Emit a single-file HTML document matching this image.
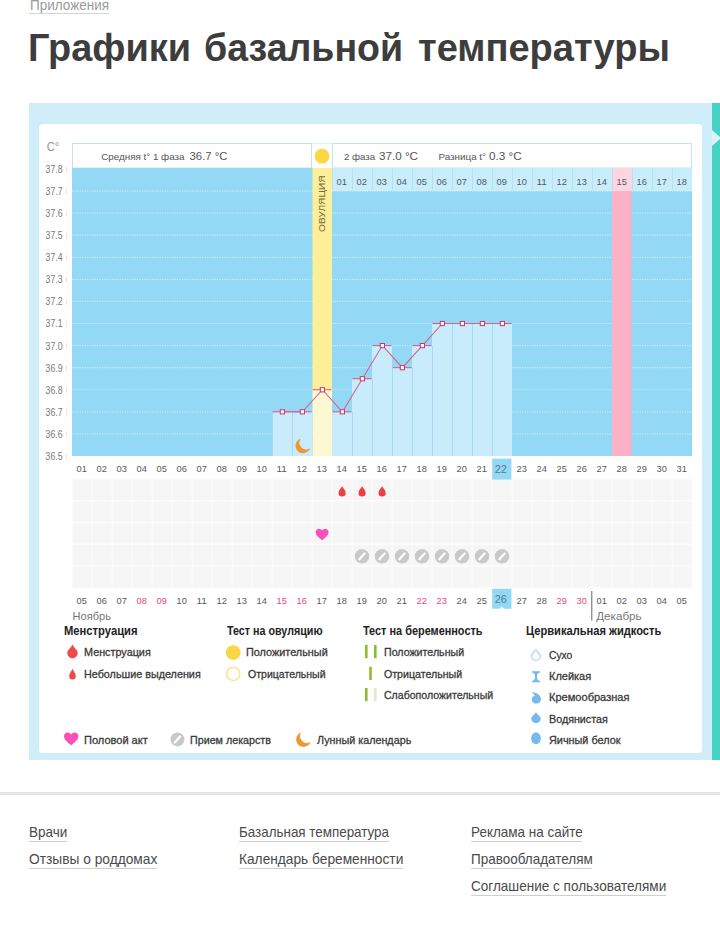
<!DOCTYPE html>
<html lang="ru"><head><meta charset="utf-8"><title>Графики базальной температуры</title>
<style>
html,body{margin:0;padding:0;background:#fff;}
body{width:720px;height:928px;position:relative;overflow:hidden;font-family:"Liberation Sans",sans-serif;}
.t{position:absolute;white-space:nowrap;line-height:1;transform-origin:0 50%;display:block;}
.lg{-webkit-text-stroke:0.3px #383838;}
.ul{position:absolute;height:1px;display:block;}
#panel{position:absolute;left:29px;top:103px;width:683px;height:657px;background:#d0eefa;}
#teal{position:absolute;left:712px;top:103px;width:8px;height:657px;background:#44d4c1;}
#notch{position:absolute;left:712px;top:129.5px;width:0;height:0;border-top:8.5px solid transparent;border-bottom:8.5px solid transparent;border-left:9.5px solid #d9f4fa;}
#card{position:absolute;left:39px;top:124px;width:663px;height:629px;background:#fff;border-radius:4px;}
#hr{position:absolute;left:0;top:792px;width:720px;height:3px;background:#e4e4e4;}
svg{position:absolute;left:0;top:0;font-family:"Liberation Sans",sans-serif;}
</style></head><body>
<span class="t " style="left:29.50px;top:-3.20px;font-size:15px;color:#9a9a9a;transform:scaleX(0.9002);">Приложения</span><i class="ul" style="left:29px;top:13px;width:80px;background:#d4d4d4"></i><span class="t h1" style="left:28.00px;top:28.66px;font-size:38.5px;color:#3d3d3d;font-weight:bold;transform:scaleX(0.9844);">Графики</span><span class="t h1" style="left:204.00px;top:28.66px;font-size:38.5px;color:#3d3d3d;font-weight:bold;transform:scaleX(0.9742);">базальной</span><span class="t h1" style="left:418.00px;top:28.66px;font-size:38.5px;color:#3d3d3d;font-weight:bold;transform:scaleX(0.9884);">температуры</span>
<div id="panel"></div><div id="teal"></div><div id="notch"></div><div id="card"></div>
<svg width="720" height="928" viewBox="0 0 720 928"><rect x="72.5" y="143.5" width="239" height="24.5" fill="#fefefe" stroke="#c4e2ef"/>
<rect x="332.5" y="143.5" width="359" height="24.5" fill="#fefefe" stroke="#c4e2ef"/>
<rect x="312" y="143.5" width="20" height="24.5" fill="#fff"/>
<line x1="312" x2="332" y1="143.5" y2="143.5" stroke="#dff1f9"/>
<rect x="72" y="168" width="620" height="288.0" fill="#93d8f4"/>
<rect x="332" y="168" width="360" height="23" fill="#caedfc"/>
<rect x="612" y="168" width="20" height="23" fill="#fdd6e2"/>
<line x1="332.5" x2="332.5" y1="168" y2="191" stroke="#b4dcf0" stroke-opacity="0.8"/>
<line x1="352.5" x2="352.5" y1="168" y2="191" stroke="#b4dcf0" stroke-opacity="0.8"/>
<line x1="372.5" x2="372.5" y1="168" y2="191" stroke="#b4dcf0" stroke-opacity="0.8"/>
<line x1="392.5" x2="392.5" y1="168" y2="191" stroke="#b4dcf0" stroke-opacity="0.8"/>
<line x1="412.5" x2="412.5" y1="168" y2="191" stroke="#b4dcf0" stroke-opacity="0.8"/>
<line x1="432.5" x2="432.5" y1="168" y2="191" stroke="#b4dcf0" stroke-opacity="0.8"/>
<line x1="452.5" x2="452.5" y1="168" y2="191" stroke="#b4dcf0" stroke-opacity="0.8"/>
<line x1="472.5" x2="472.5" y1="168" y2="191" stroke="#b4dcf0" stroke-opacity="0.8"/>
<line x1="492.5" x2="492.5" y1="168" y2="191" stroke="#b4dcf0" stroke-opacity="0.8"/>
<line x1="512.5" x2="512.5" y1="168" y2="191" stroke="#b4dcf0" stroke-opacity="0.8"/>
<line x1="532.5" x2="532.5" y1="168" y2="191" stroke="#b4dcf0" stroke-opacity="0.8"/>
<line x1="552.5" x2="552.5" y1="168" y2="191" stroke="#b4dcf0" stroke-opacity="0.8"/>
<line x1="572.5" x2="572.5" y1="168" y2="191" stroke="#b4dcf0" stroke-opacity="0.8"/>
<line x1="592.5" x2="592.5" y1="168" y2="191" stroke="#b4dcf0" stroke-opacity="0.8"/>
<line x1="612.5" x2="612.5" y1="168" y2="191" stroke="#b4dcf0" stroke-opacity="0.8"/>
<line x1="632.5" x2="632.5" y1="168" y2="191" stroke="#b4dcf0" stroke-opacity="0.8"/>
<line x1="652.5" x2="652.5" y1="168" y2="191" stroke="#b4dcf0" stroke-opacity="0.8"/>
<line x1="672.5" x2="672.5" y1="168" y2="191" stroke="#b4dcf0" stroke-opacity="0.8"/>
<line x1="72" x2="692" y1="433.92" y2="433.92" stroke="#fff" stroke-opacity="0.5" stroke-width="1.2" stroke-dasharray="1.2 1.3"/>
<line x1="72" x2="692" y1="411.84" y2="411.84" stroke="#fff" stroke-opacity="0.5" stroke-width="1.2" stroke-dasharray="1.2 1.3"/>
<line x1="72" x2="692" y1="389.76" y2="389.76" stroke="#fff" stroke-opacity="0.5" stroke-width="1.2" stroke-dasharray="1.2 1.3"/>
<line x1="72" x2="692" y1="367.68" y2="367.68" stroke="#fff" stroke-opacity="0.5" stroke-width="1.2" stroke-dasharray="1.2 1.3"/>
<line x1="72" x2="692" y1="345.60" y2="345.60" stroke="#fff" stroke-opacity="0.5" stroke-width="1.2" stroke-dasharray="1.2 1.3"/>
<line x1="72" x2="692" y1="323.52" y2="323.52" stroke="#fff" stroke-opacity="0.5" stroke-width="1.2" stroke-dasharray="1.2 1.3"/>
<line x1="72" x2="692" y1="301.44" y2="301.44" stroke="#fff" stroke-opacity="0.5" stroke-width="1.2" stroke-dasharray="1.2 1.3"/>
<line x1="72" x2="692" y1="279.36" y2="279.36" stroke="#fff" stroke-opacity="0.5" stroke-width="1.2" stroke-dasharray="1.2 1.3"/>
<line x1="72" x2="692" y1="257.28" y2="257.28" stroke="#fff" stroke-opacity="0.5" stroke-width="1.2" stroke-dasharray="1.2 1.3"/>
<line x1="72" x2="692" y1="235.20" y2="235.20" stroke="#fff" stroke-opacity="0.5" stroke-width="1.2" stroke-dasharray="1.2 1.3"/>
<line x1="72" x2="692" y1="213.12" y2="213.12" stroke="#fff" stroke-opacity="0.5" stroke-width="1.2" stroke-dasharray="1.2 1.3"/>
<line x1="72" x2="692" y1="191.04" y2="191.04" stroke="#fff" stroke-opacity="0.5" stroke-width="1.2" stroke-dasharray="1.2 1.3"/>
<rect x="612" y="191" width="19.5" height="265.0" fill="#fcb1c7"/>
<rect x="272" y="411.84" width="20" height="44.16" fill="#c9ecfc"/>
<rect x="292" y="411.84" width="20" height="44.16" fill="#c9ecfc"/>
<rect x="332" y="411.84" width="20" height="44.16" fill="#c9ecfc"/>
<rect x="352" y="378.72" width="20" height="77.28" fill="#c9ecfc"/>
<rect x="372" y="345.60" width="20" height="110.40" fill="#c9ecfc"/>
<rect x="392" y="367.68" width="20" height="88.32" fill="#c9ecfc"/>
<rect x="412" y="345.60" width="20" height="110.40" fill="#c9ecfc"/>
<rect x="432" y="323.52" width="20" height="132.48" fill="#c9ecfc"/>
<rect x="452" y="323.52" width="20" height="132.48" fill="#c9ecfc"/>
<rect x="472" y="323.52" width="20" height="132.48" fill="#c9ecfc"/>
<rect x="492" y="323.52" width="20" height="132.48" fill="#c9ecfc"/>
<line x1="272.5" x2="272.5" y1="411.84" y2="456.0" stroke="#a9d9f0"/>
<line x1="292.5" x2="292.5" y1="411.84" y2="456.0" stroke="#a9d9f0"/>
<line x1="352.5" x2="352.5" y1="411.84" y2="456.0" stroke="#a9d9f0"/>
<line x1="372.5" x2="372.5" y1="378.72" y2="456.0" stroke="#a9d9f0"/>
<line x1="392.5" x2="392.5" y1="367.68" y2="456.0" stroke="#a9d9f0"/>
<line x1="412.5" x2="412.5" y1="367.68" y2="456.0" stroke="#a9d9f0"/>
<line x1="432.5" x2="432.5" y1="345.60" y2="456.0" stroke="#a9d9f0"/>
<line x1="452.5" x2="452.5" y1="323.52" y2="456.0" stroke="#a9d9f0"/>
<line x1="472.5" x2="472.5" y1="323.52" y2="456.0" stroke="#a9d9f0"/>
<line x1="492.5" x2="492.5" y1="323.52" y2="456.0" stroke="#a9d9f0"/>
<rect x="312.5" y="168" width="19.5" height="221.76" fill="#fdee9a"/>
<rect x="312.5" y="389.76" width="19.5" height="66.24" fill="#fcf8d1"/>
<circle cx="322" cy="156.2" r="7.4" fill="#fdd646"/>
<text transform="translate(325.1,232) rotate(-90)" font-size="9.6" fill="#756b3c" textLength="56.5" lengthAdjust="spacingAndGlyphs">ОВУЛЯЦИЯ</text>
<line x1="272.5" x2="291.5" y1="411.84" y2="411.84" stroke="#d9547d" stroke-width="1"/>
<line x1="292.5" x2="311.5" y1="411.84" y2="411.84" stroke="#d9547d" stroke-width="1"/>
<line x1="312.5" x2="331.5" y1="389.76" y2="389.76" stroke="#d9547d" stroke-width="1"/>
<line x1="332.5" x2="351.5" y1="411.84" y2="411.84" stroke="#d9547d" stroke-width="1"/>
<line x1="352.5" x2="371.5" y1="378.72" y2="378.72" stroke="#d9547d" stroke-width="1"/>
<line x1="372.5" x2="391.5" y1="345.60" y2="345.60" stroke="#d9547d" stroke-width="1"/>
<line x1="392.5" x2="411.5" y1="367.68" y2="367.68" stroke="#d9547d" stroke-width="1"/>
<line x1="412.5" x2="431.5" y1="345.60" y2="345.60" stroke="#d9547d" stroke-width="1"/>
<line x1="432.5" x2="451.5" y1="323.52" y2="323.52" stroke="#d9547d" stroke-width="1"/>
<line x1="452.5" x2="471.5" y1="323.52" y2="323.52" stroke="#d9547d" stroke-width="1"/>
<line x1="472.5" x2="491.5" y1="323.52" y2="323.52" stroke="#d9547d" stroke-width="1"/>
<line x1="492.5" x2="511.5" y1="323.52" y2="323.52" stroke="#d9547d" stroke-width="1"/>
<polyline points="282.4,411.84 302.4,411.84 322.4,389.76 342.4,411.84 362.4,378.72 382.4,345.60 402.4,367.68 422.4,345.60 442.4,323.52 462.4,323.52 482.4,323.52 502.4,323.52" fill="none" stroke="#db5f86" stroke-width="1.05"/>
<rect x="280.3" y="409.74" width="4.2" height="4.2" fill="#fff" stroke="#d6336c" stroke-width="1"/>
<rect x="300.3" y="409.74" width="4.2" height="4.2" fill="#fff" stroke="#d6336c" stroke-width="1"/>
<rect x="320.3" y="387.66" width="4.2" height="4.2" fill="#fff" stroke="#d6336c" stroke-width="1"/>
<rect x="340.3" y="409.74" width="4.2" height="4.2" fill="#fff" stroke="#d6336c" stroke-width="1"/>
<rect x="360.3" y="376.62" width="4.2" height="4.2" fill="#fff" stroke="#d6336c" stroke-width="1"/>
<rect x="380.3" y="343.50" width="4.2" height="4.2" fill="#fff" stroke="#d6336c" stroke-width="1"/>
<rect x="400.3" y="365.58" width="4.2" height="4.2" fill="#fff" stroke="#d6336c" stroke-width="1"/>
<rect x="420.3" y="343.50" width="4.2" height="4.2" fill="#fff" stroke="#d6336c" stroke-width="1"/>
<rect x="440.3" y="321.42" width="4.2" height="4.2" fill="#fff" stroke="#d6336c" stroke-width="1"/>
<rect x="460.3" y="321.42" width="4.2" height="4.2" fill="#fff" stroke="#d6336c" stroke-width="1"/>
<rect x="480.3" y="321.42" width="4.2" height="4.2" fill="#fff" stroke="#d6336c" stroke-width="1"/>
<rect x="500.3" y="321.42" width="4.2" height="4.2" fill="#fff" stroke="#d6336c" stroke-width="1"/>
<path d="M300.66 438.67 A7.5 7.5 0 1 0 310.13 448.14 A6.8 6.8 0 0 1 300.66 438.67z" fill="#f0962a"/>
<text x="46.80" y="151.00" font-size="13.5" fill="#959595" textLength="12.5" lengthAdjust="spacingAndGlyphs">C°</text>
<text x="45.60" y="459.90" font-size="10.2" fill="#787878" textLength="17.0" lengthAdjust="spacingAndGlyphs">36.5</text>
<line x1="66.5" x2="66.5" y1="453.5" y2="459.5" stroke="#e6e6e6"/>
<text x="45.60" y="437.82" font-size="10.2" fill="#787878" textLength="17.0" lengthAdjust="spacingAndGlyphs">36.6</text>
<line x1="66.5" x2="66.5" y1="431.4" y2="437.4" stroke="#e6e6e6"/>
<text x="45.60" y="415.74" font-size="10.2" fill="#787878" textLength="17.0" lengthAdjust="spacingAndGlyphs">36.7</text>
<line x1="66.5" x2="66.5" y1="409.3" y2="415.3" stroke="#e6e6e6"/>
<text x="45.60" y="393.66" font-size="10.2" fill="#787878" textLength="17.0" lengthAdjust="spacingAndGlyphs">36.8</text>
<line x1="66.5" x2="66.5" y1="387.3" y2="393.3" stroke="#e6e6e6"/>
<text x="45.60" y="371.58" font-size="10.2" fill="#787878" textLength="17.0" lengthAdjust="spacingAndGlyphs">36.9</text>
<line x1="66.5" x2="66.5" y1="365.2" y2="371.2" stroke="#e6e6e6"/>
<text x="45.60" y="349.50" font-size="10.2" fill="#787878" textLength="17.0" lengthAdjust="spacingAndGlyphs">37.0</text>
<line x1="66.5" x2="66.5" y1="343.1" y2="349.1" stroke="#e6e6e6"/>
<text x="45.60" y="327.42" font-size="10.2" fill="#787878" textLength="17.0" lengthAdjust="spacingAndGlyphs">37.1</text>
<line x1="66.5" x2="66.5" y1="321.0" y2="327.0" stroke="#e6e6e6"/>
<text x="45.60" y="305.34" font-size="10.2" fill="#787878" textLength="17.0" lengthAdjust="spacingAndGlyphs">37.2</text>
<line x1="66.5" x2="66.5" y1="298.9" y2="304.9" stroke="#e6e6e6"/>
<text x="45.60" y="283.26" font-size="10.2" fill="#787878" textLength="17.0" lengthAdjust="spacingAndGlyphs">37.3</text>
<line x1="66.5" x2="66.5" y1="276.9" y2="282.9" stroke="#e6e6e6"/>
<text x="45.60" y="261.18" font-size="10.2" fill="#787878" textLength="17.0" lengthAdjust="spacingAndGlyphs">37.4</text>
<line x1="66.5" x2="66.5" y1="254.8" y2="260.8" stroke="#e6e6e6"/>
<text x="45.60" y="239.10" font-size="10.2" fill="#787878" textLength="17.0" lengthAdjust="spacingAndGlyphs">37.5</text>
<line x1="66.5" x2="66.5" y1="232.7" y2="238.7" stroke="#e6e6e6"/>
<text x="45.60" y="217.02" font-size="10.2" fill="#787878" textLength="17.0" lengthAdjust="spacingAndGlyphs">37.6</text>
<line x1="66.5" x2="66.5" y1="210.6" y2="216.6" stroke="#e6e6e6"/>
<text x="45.60" y="194.94" font-size="10.2" fill="#787878" textLength="17.0" lengthAdjust="spacingAndGlyphs">37.7</text>
<line x1="66.5" x2="66.5" y1="188.5" y2="194.5" stroke="#e6e6e6"/>
<text x="45.60" y="172.86" font-size="10.2" fill="#787878" textLength="17.0" lengthAdjust="spacingAndGlyphs">37.8</text>
<line x1="66.5" x2="66.5" y1="166.5" y2="172.5" stroke="#e6e6e6"/>
<text x="101.20" y="160.00" font-size="9.6" fill="#555" textLength="83.3" lengthAdjust="spacingAndGlyphs">Средняя t° 1 фаза</text>
<text x="189.50" y="160.00" font-size="11.2" fill="#555" textLength="38.0" lengthAdjust="spacingAndGlyphs">36.7 °C</text>
<text x="344.00" y="160.00" font-size="9.6" fill="#555" textLength="31.2" lengthAdjust="spacingAndGlyphs">2 фаза</text>
<text x="379.00" y="160.00" font-size="11.2" fill="#555" textLength="39.0" lengthAdjust="spacingAndGlyphs">37.0 °C</text>
<text x="438.50" y="160.00" font-size="9.6" fill="#555" textLength="47.5" lengthAdjust="spacingAndGlyphs">Разница t°</text>
<text x="489.00" y="160.00" font-size="11.2" fill="#555" textLength="32.8" lengthAdjust="spacingAndGlyphs">0.3 °C</text>
<text x="341.70" y="185.00" font-size="9.9" fill="#4d5a63" text-anchor="middle" textLength="10.3" lengthAdjust="spacingAndGlyphs">01</text>
<text x="361.70" y="185.00" font-size="9.9" fill="#4d5a63" text-anchor="middle" textLength="10.3" lengthAdjust="spacingAndGlyphs">02</text>
<text x="381.70" y="185.00" font-size="9.9" fill="#4d5a63" text-anchor="middle" textLength="10.3" lengthAdjust="spacingAndGlyphs">03</text>
<text x="401.70" y="185.00" font-size="9.9" fill="#4d5a63" text-anchor="middle" textLength="10.3" lengthAdjust="spacingAndGlyphs">04</text>
<text x="421.70" y="185.00" font-size="9.9" fill="#4d5a63" text-anchor="middle" textLength="10.3" lengthAdjust="spacingAndGlyphs">05</text>
<text x="441.70" y="185.00" font-size="9.9" fill="#4d5a63" text-anchor="middle" textLength="10.3" lengthAdjust="spacingAndGlyphs">06</text>
<text x="461.70" y="185.00" font-size="9.9" fill="#4d5a63" text-anchor="middle" textLength="10.3" lengthAdjust="spacingAndGlyphs">07</text>
<text x="481.70" y="185.00" font-size="9.9" fill="#4d5a63" text-anchor="middle" textLength="10.3" lengthAdjust="spacingAndGlyphs">08</text>
<text x="501.70" y="185.00" font-size="9.9" fill="#4d5a63" text-anchor="middle" textLength="10.3" lengthAdjust="spacingAndGlyphs">09</text>
<text x="521.70" y="185.00" font-size="9.9" fill="#4d5a63" text-anchor="middle" textLength="10.3" lengthAdjust="spacingAndGlyphs">10</text>
<text x="541.70" y="185.00" font-size="9.9" fill="#4d5a63" text-anchor="middle" textLength="10.3" lengthAdjust="spacingAndGlyphs">11</text>
<text x="561.70" y="185.00" font-size="9.9" fill="#4d5a63" text-anchor="middle" textLength="10.3" lengthAdjust="spacingAndGlyphs">12</text>
<text x="581.70" y="185.00" font-size="9.9" fill="#4d5a63" text-anchor="middle" textLength="10.3" lengthAdjust="spacingAndGlyphs">13</text>
<text x="601.70" y="185.00" font-size="9.9" fill="#4d5a63" text-anchor="middle" textLength="10.3" lengthAdjust="spacingAndGlyphs">14</text>
<text x="621.70" y="185.00" font-size="9.9" fill="#4d5a63" text-anchor="middle" textLength="10.3" lengthAdjust="spacingAndGlyphs">15</text>
<text x="641.70" y="185.00" font-size="9.9" fill="#4d5a63" text-anchor="middle" textLength="10.3" lengthAdjust="spacingAndGlyphs">16</text>
<text x="661.70" y="185.00" font-size="9.9" fill="#4d5a63" text-anchor="middle" textLength="10.3" lengthAdjust="spacingAndGlyphs">17</text>
<text x="681.70" y="185.00" font-size="9.9" fill="#4d5a63" text-anchor="middle" textLength="10.3" lengthAdjust="spacingAndGlyphs">18</text>
<text x="81.70" y="472.30" font-size="9.9" fill="#585858" text-anchor="middle" textLength="10.3" lengthAdjust="spacingAndGlyphs">01</text>
<text x="101.70" y="472.30" font-size="9.9" fill="#585858" text-anchor="middle" textLength="10.3" lengthAdjust="spacingAndGlyphs">02</text>
<text x="121.70" y="472.30" font-size="9.9" fill="#585858" text-anchor="middle" textLength="10.3" lengthAdjust="spacingAndGlyphs">03</text>
<text x="141.70" y="472.30" font-size="9.9" fill="#585858" text-anchor="middle" textLength="10.3" lengthAdjust="spacingAndGlyphs">04</text>
<text x="161.70" y="472.30" font-size="9.9" fill="#585858" text-anchor="middle" textLength="10.3" lengthAdjust="spacingAndGlyphs">05</text>
<text x="181.70" y="472.30" font-size="9.9" fill="#585858" text-anchor="middle" textLength="10.3" lengthAdjust="spacingAndGlyphs">06</text>
<text x="201.70" y="472.30" font-size="9.9" fill="#585858" text-anchor="middle" textLength="10.3" lengthAdjust="spacingAndGlyphs">07</text>
<text x="221.70" y="472.30" font-size="9.9" fill="#585858" text-anchor="middle" textLength="10.3" lengthAdjust="spacingAndGlyphs">08</text>
<text x="241.70" y="472.30" font-size="9.9" fill="#585858" text-anchor="middle" textLength="10.3" lengthAdjust="spacingAndGlyphs">09</text>
<text x="261.70" y="472.30" font-size="9.9" fill="#585858" text-anchor="middle" textLength="10.3" lengthAdjust="spacingAndGlyphs">10</text>
<text x="281.70" y="472.30" font-size="9.9" fill="#585858" text-anchor="middle" textLength="10.3" lengthAdjust="spacingAndGlyphs">11</text>
<text x="301.70" y="472.30" font-size="9.9" fill="#585858" text-anchor="middle" textLength="10.3" lengthAdjust="spacingAndGlyphs">12</text>
<text x="321.70" y="472.30" font-size="9.9" fill="#585858" text-anchor="middle" textLength="10.3" lengthAdjust="spacingAndGlyphs">13</text>
<text x="341.70" y="472.30" font-size="9.9" fill="#585858" text-anchor="middle" textLength="10.3" lengthAdjust="spacingAndGlyphs">14</text>
<text x="361.70" y="472.30" font-size="9.9" fill="#585858" text-anchor="middle" textLength="10.3" lengthAdjust="spacingAndGlyphs">15</text>
<text x="381.70" y="472.30" font-size="9.9" fill="#585858" text-anchor="middle" textLength="10.3" lengthAdjust="spacingAndGlyphs">16</text>
<text x="401.70" y="472.30" font-size="9.9" fill="#585858" text-anchor="middle" textLength="10.3" lengthAdjust="spacingAndGlyphs">17</text>
<text x="421.70" y="472.30" font-size="9.9" fill="#585858" text-anchor="middle" textLength="10.3" lengthAdjust="spacingAndGlyphs">18</text>
<text x="441.70" y="472.30" font-size="9.9" fill="#585858" text-anchor="middle" textLength="10.3" lengthAdjust="spacingAndGlyphs">19</text>
<text x="461.70" y="472.30" font-size="9.9" fill="#585858" text-anchor="middle" textLength="10.3" lengthAdjust="spacingAndGlyphs">20</text>
<text x="481.70" y="472.30" font-size="9.9" fill="#585858" text-anchor="middle" textLength="10.3" lengthAdjust="spacingAndGlyphs">21</text>
<text x="521.70" y="472.30" font-size="9.9" fill="#585858" text-anchor="middle" textLength="10.3" lengthAdjust="spacingAndGlyphs">23</text>
<text x="541.70" y="472.30" font-size="9.9" fill="#585858" text-anchor="middle" textLength="10.3" lengthAdjust="spacingAndGlyphs">24</text>
<text x="561.70" y="472.30" font-size="9.9" fill="#585858" text-anchor="middle" textLength="10.3" lengthAdjust="spacingAndGlyphs">25</text>
<text x="581.70" y="472.30" font-size="9.9" fill="#585858" text-anchor="middle" textLength="10.3" lengthAdjust="spacingAndGlyphs">26</text>
<text x="601.70" y="472.30" font-size="9.9" fill="#585858" text-anchor="middle" textLength="10.3" lengthAdjust="spacingAndGlyphs">27</text>
<text x="621.70" y="472.30" font-size="9.9" fill="#585858" text-anchor="middle" textLength="10.3" lengthAdjust="spacingAndGlyphs">28</text>
<text x="641.70" y="472.30" font-size="9.9" fill="#585858" text-anchor="middle" textLength="10.3" lengthAdjust="spacingAndGlyphs">29</text>
<text x="661.70" y="472.30" font-size="9.9" fill="#585858" text-anchor="middle" textLength="10.3" lengthAdjust="spacingAndGlyphs">30</text>
<text x="681.70" y="472.30" font-size="9.9" fill="#585858" text-anchor="middle" textLength="10.3" lengthAdjust="spacingAndGlyphs">31</text>
<rect x="72" y="479" width="620" height="109" fill="#f6f6f6"/>
<line x1="72.3" x2="72.3" y1="479" y2="588" stroke="#fbfbfb" stroke-width="1.2"/>
<line x1="92.3" x2="92.3" y1="479" y2="588" stroke="#fbfbfb" stroke-width="1.2"/>
<line x1="112.3" x2="112.3" y1="479" y2="588" stroke="#fbfbfb" stroke-width="1.2"/>
<line x1="132.3" x2="132.3" y1="479" y2="588" stroke="#fbfbfb" stroke-width="1.2"/>
<line x1="152.3" x2="152.3" y1="479" y2="588" stroke="#fbfbfb" stroke-width="1.2"/>
<line x1="172.3" x2="172.3" y1="479" y2="588" stroke="#fbfbfb" stroke-width="1.2"/>
<line x1="192.3" x2="192.3" y1="479" y2="588" stroke="#fbfbfb" stroke-width="1.2"/>
<line x1="212.3" x2="212.3" y1="479" y2="588" stroke="#fbfbfb" stroke-width="1.2"/>
<line x1="232.3" x2="232.3" y1="479" y2="588" stroke="#fbfbfb" stroke-width="1.2"/>
<line x1="252.3" x2="252.3" y1="479" y2="588" stroke="#fbfbfb" stroke-width="1.2"/>
<line x1="272.3" x2="272.3" y1="479" y2="588" stroke="#fbfbfb" stroke-width="1.2"/>
<line x1="292.3" x2="292.3" y1="479" y2="588" stroke="#fbfbfb" stroke-width="1.2"/>
<line x1="312.3" x2="312.3" y1="479" y2="588" stroke="#fbfbfb" stroke-width="1.2"/>
<line x1="332.3" x2="332.3" y1="479" y2="588" stroke="#fbfbfb" stroke-width="1.2"/>
<line x1="352.3" x2="352.3" y1="479" y2="588" stroke="#fbfbfb" stroke-width="1.2"/>
<line x1="372.3" x2="372.3" y1="479" y2="588" stroke="#fbfbfb" stroke-width="1.2"/>
<line x1="392.3" x2="392.3" y1="479" y2="588" stroke="#fbfbfb" stroke-width="1.2"/>
<line x1="412.3" x2="412.3" y1="479" y2="588" stroke="#fbfbfb" stroke-width="1.2"/>
<line x1="432.3" x2="432.3" y1="479" y2="588" stroke="#fbfbfb" stroke-width="1.2"/>
<line x1="452.3" x2="452.3" y1="479" y2="588" stroke="#fbfbfb" stroke-width="1.2"/>
<line x1="472.3" x2="472.3" y1="479" y2="588" stroke="#fbfbfb" stroke-width="1.2"/>
<line x1="492.3" x2="492.3" y1="479" y2="588" stroke="#fbfbfb" stroke-width="1.2"/>
<line x1="512.3" x2="512.3" y1="479" y2="588" stroke="#fbfbfb" stroke-width="1.2"/>
<line x1="532.3" x2="532.3" y1="479" y2="588" stroke="#fbfbfb" stroke-width="1.2"/>
<line x1="552.3" x2="552.3" y1="479" y2="588" stroke="#fbfbfb" stroke-width="1.2"/>
<line x1="572.3" x2="572.3" y1="479" y2="588" stroke="#fbfbfb" stroke-width="1.2"/>
<line x1="592.3" x2="592.3" y1="479" y2="588" stroke="#fbfbfb" stroke-width="1.2"/>
<line x1="612.3" x2="612.3" y1="479" y2="588" stroke="#fbfbfb" stroke-width="1.2"/>
<line x1="632.3" x2="632.3" y1="479" y2="588" stroke="#fbfbfb" stroke-width="1.2"/>
<line x1="652.3" x2="652.3" y1="479" y2="588" stroke="#fbfbfb" stroke-width="1.2"/>
<line x1="672.3" x2="672.3" y1="479" y2="588" stroke="#fbfbfb" stroke-width="1.2"/>
<line x1="692.3" x2="692.3" y1="479" y2="588" stroke="#fbfbfb" stroke-width="1.2"/>
<line x1="72" x2="692" y1="479" y2="479" stroke="#fbfbfb" stroke-width="1.5"/>
<line x1="72" x2="692" y1="500.8" y2="500.8" stroke="#fbfbfb" stroke-width="1.5"/>
<line x1="72" x2="692" y1="522.5" y2="522.5" stroke="#fbfbfb" stroke-width="1.5"/>
<line x1="72" x2="692" y1="544.3" y2="544.3" stroke="#fbfbfb" stroke-width="1.5"/>
<line x1="72" x2="692" y1="566" y2="566" stroke="#fbfbfb" stroke-width="1.5"/>
<line x1="72" x2="692" y1="588" y2="588" stroke="#fbfbfb" stroke-width="1.5"/>
<rect x="492.2" y="458.6" width="19.2" height="21" fill="#93d8f4"/>
<text x="500.80" y="473.00" font-size="11.8" fill="#4f7f99" text-anchor="middle" textLength="12.2" lengthAdjust="spacingAndGlyphs">22</text>
<path d="M342.10 486.00 C342.96 488.33 345.70 490.24 345.70 493.00 A3.60 3.60 0 0 1 338.50 493.00 C338.50 490.24 341.24 488.33 342.10 486.00z" fill="#ec4040"/>
<path d="M362.10 486.00 C362.96 488.33 365.70 490.24 365.70 493.00 A3.60 3.60 0 0 1 358.50 493.00 C358.50 490.24 361.24 488.33 362.10 486.00z" fill="#ec4040"/>
<path d="M382.10 486.00 C382.96 488.33 385.70 490.24 385.70 493.00 A3.60 3.60 0 0 1 378.50 493.00 C378.50 490.24 381.24 488.33 382.10 486.00z" fill="#ec4040"/>
<path transform="translate(315.70,528.80) scale(0.5333,0.5429)" d="M12 21 C5 15.5 0 11.5 0 6.2 C0 2.6 2.8 0 6.2 0 C8.6 0 10.8 1.3 12 3.3 C13.2 1.3 15.4 0 17.8 0 C21.2 0 24 2.6 24 6.2 C24 11.5 19 15.5 12 21z" fill="#f951b8"/>
<circle cx="362.0" cy="556.3" r="7.2" fill="#c9c9c9"/><line x1="359.4" y1="559.1999999999999" x2="364.6" y2="553.4" stroke="#fff" stroke-width="2.3" stroke-linecap="round"/>
<circle cx="382.0" cy="556.3" r="7.2" fill="#c9c9c9"/><line x1="379.4" y1="559.1999999999999" x2="384.6" y2="553.4" stroke="#fff" stroke-width="2.3" stroke-linecap="round"/>
<circle cx="402.0" cy="556.3" r="7.2" fill="#c9c9c9"/><line x1="399.4" y1="559.1999999999999" x2="404.6" y2="553.4" stroke="#fff" stroke-width="2.3" stroke-linecap="round"/>
<circle cx="422.0" cy="556.3" r="7.2" fill="#c9c9c9"/><line x1="419.4" y1="559.1999999999999" x2="424.6" y2="553.4" stroke="#fff" stroke-width="2.3" stroke-linecap="round"/>
<circle cx="442.0" cy="556.3" r="7.2" fill="#c9c9c9"/><line x1="439.4" y1="559.1999999999999" x2="444.6" y2="553.4" stroke="#fff" stroke-width="2.3" stroke-linecap="round"/>
<circle cx="462.0" cy="556.3" r="7.2" fill="#c9c9c9"/><line x1="459.4" y1="559.1999999999999" x2="464.6" y2="553.4" stroke="#fff" stroke-width="2.3" stroke-linecap="round"/>
<circle cx="482.0" cy="556.3" r="7.2" fill="#c9c9c9"/><line x1="479.4" y1="559.1999999999999" x2="484.6" y2="553.4" stroke="#fff" stroke-width="2.3" stroke-linecap="round"/>
<circle cx="502.0" cy="556.3" r="7.2" fill="#c9c9c9"/><line x1="499.4" y1="559.1999999999999" x2="504.6" y2="553.4" stroke="#fff" stroke-width="2.3" stroke-linecap="round"/>
<path d="M492.2 588.8h19.2v20h-7.4l-2.2-2.6l-2.2 2.6h-7.4z" fill="#93d8f4"/>
<text x="81.70" y="603.60" font-size="9.9" fill="#585858" text-anchor="middle" textLength="10.3" lengthAdjust="spacingAndGlyphs">05</text>
<text x="101.70" y="603.60" font-size="9.9" fill="#585858" text-anchor="middle" textLength="10.3" lengthAdjust="spacingAndGlyphs">06</text>
<text x="121.70" y="603.60" font-size="9.9" fill="#585858" text-anchor="middle" textLength="10.3" lengthAdjust="spacingAndGlyphs">07</text>
<text x="141.70" y="603.60" font-size="9.9" fill="#e2497c" text-anchor="middle" textLength="10.3" lengthAdjust="spacingAndGlyphs">08</text>
<text x="161.70" y="603.60" font-size="9.9" fill="#e2497c" text-anchor="middle" textLength="10.3" lengthAdjust="spacingAndGlyphs">09</text>
<text x="181.70" y="603.60" font-size="9.9" fill="#585858" text-anchor="middle" textLength="10.3" lengthAdjust="spacingAndGlyphs">10</text>
<text x="201.70" y="603.60" font-size="9.9" fill="#585858" text-anchor="middle" textLength="10.3" lengthAdjust="spacingAndGlyphs">11</text>
<text x="221.70" y="603.60" font-size="9.9" fill="#585858" text-anchor="middle" textLength="10.3" lengthAdjust="spacingAndGlyphs">12</text>
<text x="241.70" y="603.60" font-size="9.9" fill="#585858" text-anchor="middle" textLength="10.3" lengthAdjust="spacingAndGlyphs">13</text>
<text x="261.70" y="603.60" font-size="9.9" fill="#585858" text-anchor="middle" textLength="10.3" lengthAdjust="spacingAndGlyphs">14</text>
<text x="281.70" y="603.60" font-size="9.9" fill="#e2497c" text-anchor="middle" textLength="10.3" lengthAdjust="spacingAndGlyphs">15</text>
<text x="301.70" y="603.60" font-size="9.9" fill="#e2497c" text-anchor="middle" textLength="10.3" lengthAdjust="spacingAndGlyphs">16</text>
<text x="321.70" y="603.60" font-size="9.9" fill="#585858" text-anchor="middle" textLength="10.3" lengthAdjust="spacingAndGlyphs">17</text>
<text x="341.70" y="603.60" font-size="9.9" fill="#585858" text-anchor="middle" textLength="10.3" lengthAdjust="spacingAndGlyphs">18</text>
<text x="361.70" y="603.60" font-size="9.9" fill="#585858" text-anchor="middle" textLength="10.3" lengthAdjust="spacingAndGlyphs">19</text>
<text x="381.70" y="603.60" font-size="9.9" fill="#585858" text-anchor="middle" textLength="10.3" lengthAdjust="spacingAndGlyphs">20</text>
<text x="401.70" y="603.60" font-size="9.9" fill="#585858" text-anchor="middle" textLength="10.3" lengthAdjust="spacingAndGlyphs">21</text>
<text x="421.70" y="603.60" font-size="9.9" fill="#e2497c" text-anchor="middle" textLength="10.3" lengthAdjust="spacingAndGlyphs">22</text>
<text x="441.70" y="603.60" font-size="9.9" fill="#e2497c" text-anchor="middle" textLength="10.3" lengthAdjust="spacingAndGlyphs">23</text>
<text x="461.70" y="603.60" font-size="9.9" fill="#585858" text-anchor="middle" textLength="10.3" lengthAdjust="spacingAndGlyphs">24</text>
<text x="481.70" y="603.60" font-size="9.9" fill="#585858" text-anchor="middle" textLength="10.3" lengthAdjust="spacingAndGlyphs">25</text>
<text x="500.80" y="603.30" font-size="11.8" fill="#4f7f99" text-anchor="middle" textLength="12.2" lengthAdjust="spacingAndGlyphs">26</text>
<text x="521.70" y="603.60" font-size="9.9" fill="#585858" text-anchor="middle" textLength="10.3" lengthAdjust="spacingAndGlyphs">27</text>
<text x="541.70" y="603.60" font-size="9.9" fill="#585858" text-anchor="middle" textLength="10.3" lengthAdjust="spacingAndGlyphs">28</text>
<text x="561.70" y="603.60" font-size="9.9" fill="#e2497c" text-anchor="middle" textLength="10.3" lengthAdjust="spacingAndGlyphs">29</text>
<text x="581.70" y="603.60" font-size="9.9" fill="#e2497c" text-anchor="middle" textLength="10.3" lengthAdjust="spacingAndGlyphs">30</text>
<text x="601.70" y="603.60" font-size="9.9" fill="#585858" text-anchor="middle" textLength="10.3" lengthAdjust="spacingAndGlyphs">01</text>
<text x="621.70" y="603.60" font-size="9.9" fill="#585858" text-anchor="middle" textLength="10.3" lengthAdjust="spacingAndGlyphs">02</text>
<text x="641.70" y="603.60" font-size="9.9" fill="#585858" text-anchor="middle" textLength="10.3" lengthAdjust="spacingAndGlyphs">03</text>
<text x="661.70" y="603.60" font-size="9.9" fill="#585858" text-anchor="middle" textLength="10.3" lengthAdjust="spacingAndGlyphs">04</text>
<text x="681.70" y="603.60" font-size="9.9" fill="#585858" text-anchor="middle" textLength="10.3" lengthAdjust="spacingAndGlyphs">05</text>
<line x1="591.8" x2="591.8" y1="591" y2="620.5" stroke="#666" stroke-width="1"/>
<text x="72.50" y="620.00" font-size="11.5" fill="#777" textLength="38.5" lengthAdjust="spacingAndGlyphs">Ноябрь</text>
<text x="596.20" y="620.00" font-size="11.5" fill="#777" textLength="45.5" lengthAdjust="spacingAndGlyphs">Декабрь</text></svg>
<svg width="720" height="928" viewBox="0 0 720 928"><path d="M72.50 644.60 C73.75 647.59 77.70 650.04 77.70 653.00 A5.20 5.20 0 0 1 67.30 653.00 C67.30 650.04 71.25 647.59 72.50 644.60z" fill="#f04a48"/>
<path d="M72.50 668.80 C73.29 671.18 75.80 673.12 75.80 676.30 A3.30 3.30 0 0 1 69.20 676.30 C69.20 673.12 71.71 671.18 72.50 668.80z" fill="#f04a48"/>
<path transform="translate(64.00,732.40) scale(0.6000,0.6143)" d="M12 21 C5 15.5 0 11.5 0 6.2 C0 2.6 2.8 0 6.2 0 C8.6 0 10.8 1.3 12 3.3 C13.2 1.3 15.4 0 17.8 0 C21.2 0 24 2.6 24 6.2 C24 11.5 19 15.5 12 21z" fill="#f951b8"/>
<circle cx="177.5" cy="739.4" r="7.0" fill="#c9c9c9"/><line x1="174.9" y1="742.3" x2="180.1" y2="736.5" stroke="#fff" stroke-width="2.3" stroke-linecap="round"/>
<path d="M301.17 732.41 A7.4 7.4 0 1 0 310.59 741.83 A6.8 6.8 0 0 1 301.17 732.41z" fill="#f0962a"/>
<circle cx="233.2" cy="652.6" r="7.4" fill="#fdd646"/>
<circle cx="233.2" cy="673.8" r="6.6" fill="#fff" stroke="#fae58d" stroke-width="1.5"/>
<rect x="365" y="645" width="2.6" height="13.2" fill="#8cbe2c"/><rect x="374" y="645" width="2.6" height="13.2" fill="#8cbe2c"/>
<rect x="369.2" y="666.8" width="2.6" height="13.2" fill="#8cbe2c"/>
<rect x="365" y="688" width="2.6" height="13.2" fill="#8cbe2c"/><rect x="374" y="688" width="2.6" height="13.2" fill="#dfe9cc"/>
<path d="M535.9 649.9 C537.6 652 540.3 653.6 540.3 656 A4.4 4.4 0 0 1 531.5 656 C531.5 653.6 534.2 652 535.9 649.9z" fill="#fff" stroke="#b3d7ef" stroke-width="1.3"/>
<path d="M531.9 671.3 h8.2 v1.2 c-2.2 0.5 -3.1 1.5 -3.1 3.2 v2 c0 1.7 0.9 2.8 3.1 3.4 v1.2 h-8.2 v-1.2 c2.2 -0.6 3.1 -1.7 3.1 -3.4 v-2 c0 -1.7 -0.9 -2.7 -3.1 -3.2z" fill="#74baf1"/>
<path d="M531.7 692.2 C535.6 692.1 541 694.6 541 699.2 C541 701.8 538.9 703.6 536.4 703.6 C533.9 703.6 531.9 701.8 531.9 699.4 C531.9 697.6 533.1 696.3 534.8 695.8 C534.2 694.4 533.2 693.2 531.7 692.2z" fill="#74baf1"/>
<path d="M536.00 712.00 C537.15 714.46 540.80 716.48 540.80 718.40 A4.80 4.80 0 0 1 531.20 718.40 C531.20 716.48 534.85 714.46 536.00 712.00z" fill="#74baf1"/>
<ellipse cx="536" cy="738.3" rx="4.8" ry="6" fill="#74baf1"/></svg><span class="t " style="left:64.30px;top:625.34px;font-size:12px;color:#222;font-weight:bold;transform:scaleX(0.9353);">Менструация</span><span class="t " style="left:227.00px;top:625.34px;font-size:12px;color:#222;font-weight:bold;transform:scaleX(0.8940);">Тест на овуляцию</span><span class="t " style="left:363.30px;top:625.34px;font-size:12px;color:#222;font-weight:bold;transform:scaleX(0.9090);">Тест на беременность</span><span class="t " style="left:526.30px;top:625.34px;font-size:12px;color:#222;font-weight:bold;transform:scaleX(0.9263);">Цервикальная жидкость</span><span class="t lg" style="left:84.40px;top:646.18px;font-size:11.6px;color:#383838;transform:scaleX(0.9328);">Менструация</span><span class="t lg" style="left:84.40px;top:668.18px;font-size:11.6px;color:#383838;transform:scaleX(0.9304);">Небольшие выделения</span><span class="t lg" style="left:84.40px;top:733.78px;font-size:11.6px;color:#383838;transform:scaleX(0.9516);">Половой акт</span><span class="t lg" style="left:190.00px;top:733.78px;font-size:11.6px;color:#383838;transform:scaleX(0.9242);">Прием лекарств</span><span class="t lg" style="left:317.00px;top:733.78px;font-size:11.6px;color:#383838;transform:scaleX(0.9289);">Лунный календарь</span><span class="t lg" style="left:246.40px;top:646.18px;font-size:11.6px;color:#383838;transform:scaleX(0.9372);">Положительный</span><span class="t lg" style="left:247.50px;top:668.18px;font-size:11.6px;color:#383838;transform:scaleX(0.9087);">Отрицательный</span><span class="t lg" style="left:384.30px;top:646.18px;font-size:11.6px;color:#383838;transform:scaleX(0.9189);">Положительный</span><span class="t lg" style="left:384.30px;top:667.88px;font-size:11.6px;color:#383838;transform:scaleX(0.9158);">Отрицательный</span><span class="t lg" style="left:384.30px;top:689.18px;font-size:11.6px;color:#383838;transform:scaleX(0.9106);">Слабоположительный</span><span class="t lg" style="left:549.30px;top:648.88px;font-size:11.6px;color:#383838;transform:scaleX(0.8860);">Сухо</span><span class="t lg" style="left:548.50px;top:670.18px;font-size:11.6px;color:#383838;transform:scaleX(0.9479);">Клейкая</span><span class="t lg" style="left:548.50px;top:691.38px;font-size:11.6px;color:#383838;transform:scaleX(0.9536);">Кремообразная</span><span class="t lg" style="left:548.50px;top:712.58px;font-size:11.6px;color:#383838;transform:scaleX(0.9247);">Водянистая</span><span class="t lg" style="left:548.80px;top:733.58px;font-size:11.6px;color:#383838;transform:scaleX(0.9364);">Яичный белок</span>
<div id="hr"></div>
<span class="t " style="left:29.00px;top:823.80px;font-size:15px;color:#4a4a4a;transform:scaleX(0.9000);">Врачи</span><i class="ul" style="left:29.0px;top:841.0px;width:38.3px;background:#cfcfcf"></i><span class="t " style="left:29.00px;top:850.80px;font-size:15px;color:#4a4a4a;transform:scaleX(0.9165);">Отзывы о роддомах</span><i class="ul" style="left:29.0px;top:868.0px;width:128.3px;background:#cfcfcf"></i><span class="t " style="left:239.00px;top:823.80px;font-size:15px;color:#4a4a4a;transform:scaleX(0.8931);">Базальная температура</span><i class="ul" style="left:239.0px;top:841.0px;width:150.0px;background:#cfcfcf"></i><span class="t " style="left:239.00px;top:850.80px;font-size:15px;color:#4a4a4a;transform:scaleX(0.9146);">Календарь беременности</span><i class="ul" style="left:239.0px;top:868.0px;width:164.3px;background:#cfcfcf"></i><span class="t " style="left:470.50px;top:823.80px;font-size:15px;color:#4a4a4a;transform:scaleX(0.8987);">Реклама на сайте</span><i class="ul" style="left:470.5px;top:841.0px;width:111.8px;background:#cfcfcf"></i><span class="t " style="left:470.50px;top:850.80px;font-size:15px;color:#4a4a4a;transform:scaleX(0.8991);">Правообладателям</span><i class="ul" style="left:470.5px;top:868.0px;width:121.8px;background:#cfcfcf"></i><span class="t " style="left:470.50px;top:877.50px;font-size:15px;color:#4a4a4a;transform:scaleX(0.9024);">Соглашение с пользователями</span><i class="ul" style="left:470.5px;top:894.7px;width:195.2px;background:#cfcfcf"></i>
</body></html>
